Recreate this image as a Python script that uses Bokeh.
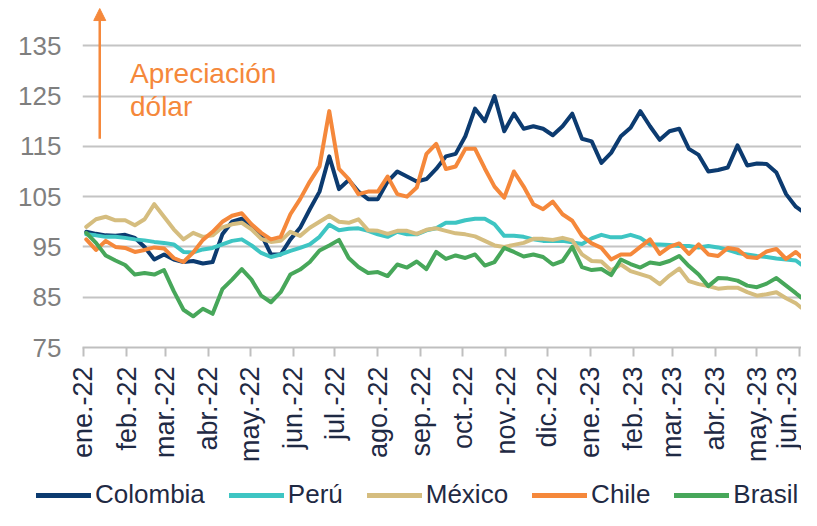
import math
import pandas as pd
from bokeh.plotting import figure
from bokeh.layouts import column
from bokeh.models import (Range1d, FixedTicker, Legend, LegendItem, Arrow, NormalHead, Label,
                          DatetimeAxis)
from bokeh.embed import file_html
from bokeh.resources import INLINE

# ---------------- data ----------------
weekly_dates = list(pd.date_range("2022-01-03", periods=74, freq="7D")) + [pd.Timestamp("2023-06-02")]

colombia = [98, 97.6, 97.3, 97.2, 97.4, 96.8, 95, 92.5, 93.5, 92.5, 92, 92.2, 91.7, 92, 97.5, 100,
            100.6, 99, 97.5, 93.5, 93.5, 96.5, 98.8, 102.5, 106, 113, 106.5, 108.3, 106, 104.5, 104.5,
            108, 110, 109, 108, 108.5, 110.5, 113, 113.5, 117, 122.5, 120, 125, 118, 121.5, 118.5,
            119, 118.5, 117.2, 119, 121.5, 116.5, 116, 111.7, 113.7, 117, 118.7, 122, 119, 116.3,
            118, 118.5, 114.5, 113.3, 110, 110.3, 110.8, 115.2, 111.2, 111.6, 111.5, 109.8, 105.5,
            103, 102.2]
peru = [97.5, 97.3, 97, 97, 96.8, 96.5, 96.3, 96, 95.8, 95.5, 94, 93.9, 94.5, 94.8, 95.5, 96.2,
        96.5, 95.3, 93.8, 93, 93.5, 94.2, 94.8, 95.5, 97, 99.4, 98.3, 98.6, 98.7, 98.2, 97.5, 97,
        98, 97.5, 97.5, 98.3, 98.7, 99.8, 99.8, 100.3, 100.6, 100.6, 99.5, 97.2, 97.2, 97, 96.5,
        96.2, 96.2, 96.2, 95.9, 95.6, 96.7, 97.4, 96.9, 96.9, 97.4, 96.8, 95.5, 95.5, 95.4, 95.2,
        95.2, 94.9, 95.2, 94.9, 94.4, 93.8, 93.5, 93.2, 93, 92.7, 92.5, 92.3, 91.5]
mexico = [99, 100.5, 101, 100.3, 100.3, 99.3, 100.5, 103.5, 101, 98.5, 96.5, 97.8, 97, 97.3, 98.9,
          99.5, 99.8, 98.5, 96.6, 96, 96.2, 98, 97.2, 98.8, 100, 101.2, 100, 99.8, 100.5, 98.3,
          98.2, 97.6, 98.2, 98.2, 97.6, 98.4, 98.7, 98.2, 97.7, 97.5, 97.1, 96.2, 95.3, 95, 95.4,
          95.8, 96.6, 96.6, 96.4, 96.8, 96.3, 93.5, 92.2, 92.1, 90.3, 91.5, 90.2, 89.6, 89, 87.6,
          89.3, 90.7, 88.2, 87.6, 87.2, 86.7, 86.9, 86.9, 86, 85.3, 85.6, 86, 84.8, 83.8, 82.9]
chile = [96.5, 94.4, 96.2, 95, 94.8, 94, 94.4, 94.9, 94.7, 92.8, 92, 93.9, 96.4, 98, 100, 101.2,
         101.7, 99.5, 97.8, 96.5, 97, 101.5, 104.5, 108, 111, 122, 110.5, 108.5, 105.5, 106, 106,
         109, 105.5, 105, 106.8, 113.5, 115.5, 110.5, 111, 114.5, 114.5, 110.6, 107, 104.8, 110,
         107, 103.5, 102.5, 104, 101.5, 100.2, 97.2, 95.7, 94.8, 92.5, 93.5, 93.5, 95, 96.5, 93.6,
         95, 95.7, 93.6, 95.5, 93.5, 93.2, 94.8, 94.5, 93, 92.8, 94.1, 94.6, 92.6, 94, 93]
brasil = [97.8, 95.8, 93.3, 92.3, 91.4, 89.5, 89.8, 89.5, 90.4, 86.2, 82.5, 81.2, 82.7, 81.7, 86.6,
          88.5, 90.6, 88.5, 85.3, 84, 86, 89.5, 90.5, 92, 94.3, 95.3, 96.4, 92.8, 91, 89.8, 90,
          89.2, 91.5, 90.9, 92.1, 90.6, 94, 92.6, 93.3, 92.8, 93.5, 91.3, 92, 94.8, 94, 93.1, 93.5,
          93, 91.5, 92.2, 95, 91, 90.4, 90.6, 89.4, 92.5, 91.6, 90.9, 91.9, 91.6, 92.2, 93.2, 91.2,
          89.5, 87.2, 88.8, 88.7, 88.3, 87.3, 87, 87.7, 88.8, 87.3, 85.8, 84.9]

series_names = ["Colombia", "Perú", "México", "Chile", "Brasil"]
series_values = [colombia, peru, mexico, chile, brasil]
series_colors = ["#0C3B70", "#3EC5C3", "#D5BD7F", "#F5883B", "#47A75A"]

month_starts = list(pd.date_range("2022-01-01", "2023-06-01", freq="MS"))
month_labels = ["ene.-22", "feb.-22", "mar.-22", "abr.-22", "may.-22", "jun.-22", "jul.-22",
                "ago.-22", "sep.-22", "oct.-22", "nov.-22", "dic.-22", "ene.-23", "feb.-23",
                "mar.-23", "abr.-23", "may.-23", "jun.-23"]
y_ticks = [75, 85, 95, 105, 115, 125, 135]

# ---------------- main figure ----------------
FONT = "Liberation Sans"
TEXT_DARK = "#1F2A44"
x_start = pd.Timestamp("2022-01-01") - pd.Timedelta(hours=17)
x_end = x_start + pd.Timedelta(days=517.8)

p = figure(width=801, height=470, output_backend="svg", toolbar_location=None,
           x_axis_type=None, y_range=Range1d(75, 144),
           x_range=Range1d(x_start, x_end),
           min_border_left=82, min_border_right=0, min_border_top=0, min_border_bottom=123)
p.frame_align = False
p.outline_line_color = None
p.background_fill_color = "white"
p.border_fill_color = "white"

tick_ms = [t.value / 1e6 for t in month_starts]
xaxis = DatetimeAxis(ticker=FixedTicker(ticks=tick_ms))
xaxis.major_label_overrides = {ms: lab for ms, lab in zip(tick_ms, month_labels)}
xaxis.major_label_orientation = math.pi / 2
xaxis.major_label_text_font = FONT
xaxis.major_label_text_font_size = "27px"
xaxis.major_label_text_color = TEXT_DARK
xaxis.major_label_standoff = 10
xaxis.axis_line_color = "#BFBFBF"
xaxis.axis_line_width = 2
xaxis.major_tick_line_color = "#BFBFBF"
xaxis.major_tick_line_width = 2
xaxis.major_tick_out = 9
xaxis.major_tick_in = 0
xaxis.minor_tick_line_color = None
p.add_layout(xaxis, "below")

p.yaxis.ticker = FixedTicker(ticks=y_ticks)
p.yaxis.axis_line_color = None
p.yaxis.major_tick_line_color = None
p.yaxis.minor_tick_line_color = None
p.yaxis.major_label_text_font = FONT
p.yaxis.major_label_text_font_size = "26px"
p.yaxis.major_label_text_color = "#7F7F7F"
p.yaxis.major_label_standoff = 15

p.xgrid.grid_line_color = None
p.ygrid.grid_line_color = "#C4C4C4"
p.ygrid.grid_line_width = 2
p.ygrid.ticker = FixedTicker(ticks=y_ticks[1:])

for name, vals, col in zip(series_names, series_values, series_colors):
    p.line(weekly_dates, vals, line_color=col, line_width=4, line_join="round", line_cap="round")

# annotation
arrow_x = pd.Timestamp("2022-01-12 17:00")
p.add_layout(Arrow(end=NormalHead(size=12, fill_color="#F5883B", line_color="#F5883B"),
                   x_start=arrow_x, y_start=116.5, x_end=arrow_x, y_end=142.4,
                   line_color="#F5883B", line_width=2.5))
text_x = pd.Timestamp("2022-02-03 12:00")
for txt, yv in [("Apreciación", 129.5), ("dólar", 122.9)]:
    p.add_layout(Label(x=text_x, y=yv, text=txt, text_font=FONT, text_font_size="28px",
                       text_color="#F5883B", text_baseline="alphabetic"))

# ---------------- legend strip ----------------
lg = figure(width=801, height=40, output_backend="svg", toolbar_location=None,
            x_axis_type=None, y_axis_type=None, x_range=Range1d(0, 1), y_range=Range1d(0, 1),
            min_border_left=0, min_border_right=0, min_border_top=0, min_border_bottom=0)
lg.frame_align = False
lg.outline_line_color = None
lg.xgrid.visible = False
lg.ygrid.visible = False
items = []
for name, col in zip(series_names, series_colors):
    # off-range placeholder so that the legend can show each series' line style
    r = lg.line(x=[-5, -4], y=[-5, -5], line_color=col, line_width=5, line_cap="round")
    items.append(LegendItem(label=name, renderers=[r]))
legend = Legend(items=items, orientation="horizontal", location=(36, 0),
                label_text_font=FONT, label_text_font_size="26px", label_text_color=TEXT_DARK,
                glyph_width=55, glyph_height=24, label_standoff=4, spacing=24,
                padding=0, margin=0, border_line_color=None, background_fill_alpha=0,
                label_height=24)
lg.add_layout(legend)

open("out.html", "w").write(file_html(column(p, lg, spacing=0), INLINE))
